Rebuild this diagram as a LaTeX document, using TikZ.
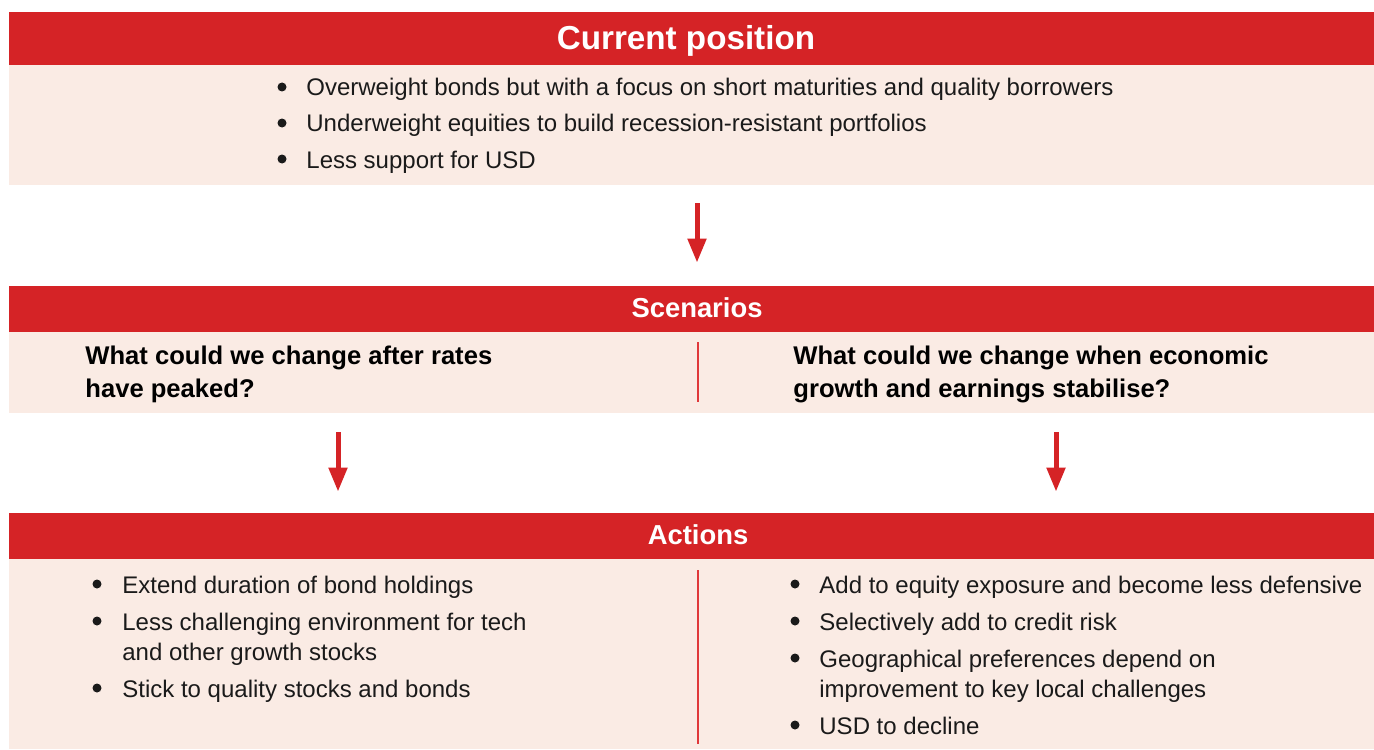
\documentclass[tikz,border=0pt]{standalone}
\usepackage{fontspec}
\setmainfont{Liberation Sans}
\usetikzlibrary{arrows.meta}

\definecolor{hsred}{HTML}{D52326}
\definecolor{hspink}{HTML}{FAEBE4}
\definecolor{hstext}{HTML}{1A1A1A}
\definecolor{hsline}{HTML}{E0383A}

\begin{document}
\begin{tikzpicture}[x=0.5pt,y=-0.5pt,
    band/.style={fill=hsred, draw=none, inner sep=0pt, minimum width=682.5pt},
    panel/.style={fill=hspink, draw=none, inner sep=0pt, minimum width=682.5pt},
    title/.style={anchor=base, text=white, inner sep=0pt, font=\bfseries\fontsize{13.7}{16}\selectfont},
    bul/.style={circle, fill=hstext, inner sep=0pt, minimum size=4.5pt},
    txt/.style={anchor=base west, text=hstext, inner sep=0pt, font=\fontsize{12}{15}\selectfont},
    ask/.style={anchor=base west, text=black, inner sep=0pt, font=\bfseries\fontsize{12.8}{16}\selectfont},
    arr/.style={draw=hsred, line width=2.5pt, -{Triangle[width=9pt,length=12pt]}},
    divline/.style={draw=hsline, line width=1pt}]
    \useasboundingbox (0,0) rectangle (1374,749);

    % Current position
    \node[band, minimum height=26.5pt] (b1) at (691.5,38.5) {};
    \node[panel, minimum height=60pt] (p1) at (691.5,125) {};
    \node[title, font=\bfseries\fontsize{16.6}{19}\selectfont] (t1) at (686,50) {Current position};
    \node[bul] (u1) at (282,87) {};
    \node[txt] (c1) at (306,96) {Overweight bonds but with a focus on short maturities and quality borrowers};
    \node[bul] (u2) at (282,123) {};
    \node[txt] (c2) at (306,132) {Underweight equities to build recession-resistant portfolios};
    \node[bul] (u3) at (282,159) {};
    \node[txt] (c3) at (306,168) {Less support for USD};

    % Scenarios
    \node[band, minimum height=23pt] (b2) at (691.5,309) {};
    \node[panel, minimum height=40.5pt] (p2) at (691.5,372.5) {};
    \node[title] (t2) at (697,317) {Scenarios};
    \draw[divline] (698,342) -- (698,402);
    \node[ask] (s1) at (85,364) {What could we change after rates};
    \node[ask] (s1b) at (85,397) {have peaked?};
    \node[ask] (s2) at (793,364) {What could we change when economic};
    \node[ask] (s2b) at (793,397) {growth and earnings stabilise?};

    % Actions
    \node[band, minimum height=23pt] (b3) at (691.5,536) {};
    \node[panel, minimum height=95pt] (p3) at (691.5,654) {};
    \node[title] (t3) at (698,544) {Actions};
    \draw[divline] (698,570) -- (698,744);

    % left column
    \node[bul] (lu1) at (97,584) {};
    \node[txt] (l1) at (122,593) {Extend duration of bond holdings};
    \node[bul] (lu2) at (97,621) {};
    \node[txt] (l2) at (122,630) {Less challenging environment for tech};
    \node[txt] (l2b) at (122,660) {and other growth stocks};
    \node[bul] (lu3) at (97,688) {};
    \node[txt] (l3) at (122,697) {Stick to quality stocks and bonds};

    % right column
    \node[bul] (ru1) at (795,584) {};
    \node[txt] (r1) at (819,593) {Add to equity exposure and become less defensive};
    \node[bul] (ru2) at (795,621) {};
    \node[txt] (r2) at (819,630) {Selectively add to credit risk};
    \node[bul] (ru3) at (795,658) {};
    \node[txt] (r3) at (819,667) {Geographical preferences depend on};
    \node[txt] (r3b) at (819,697) {improvement to key local challenges};
    \node[bul] (ru4) at (795,725) {};
    \node[txt] (r4) at (819,734) {USD to decline};

    % arrows between the stages
    \draw[arr, shorten <=9pt, shorten >=11.5pt] ([xshift=2.75pt]p1.south) -- ([xshift=2.75pt]b2.north);
    \draw[arr, shorten <=9.5pt, shorten >=10.5pt] ([xshift=-176.75pt]p2.south) -- ([xshift=-176.75pt]b3.north);
    \draw[arr, shorten <=9.5pt, shorten >=10.5pt] ([xshift=182.25pt]p2.south) -- ([xshift=182.25pt]b3.north);
\end{tikzpicture}
\end{document}
